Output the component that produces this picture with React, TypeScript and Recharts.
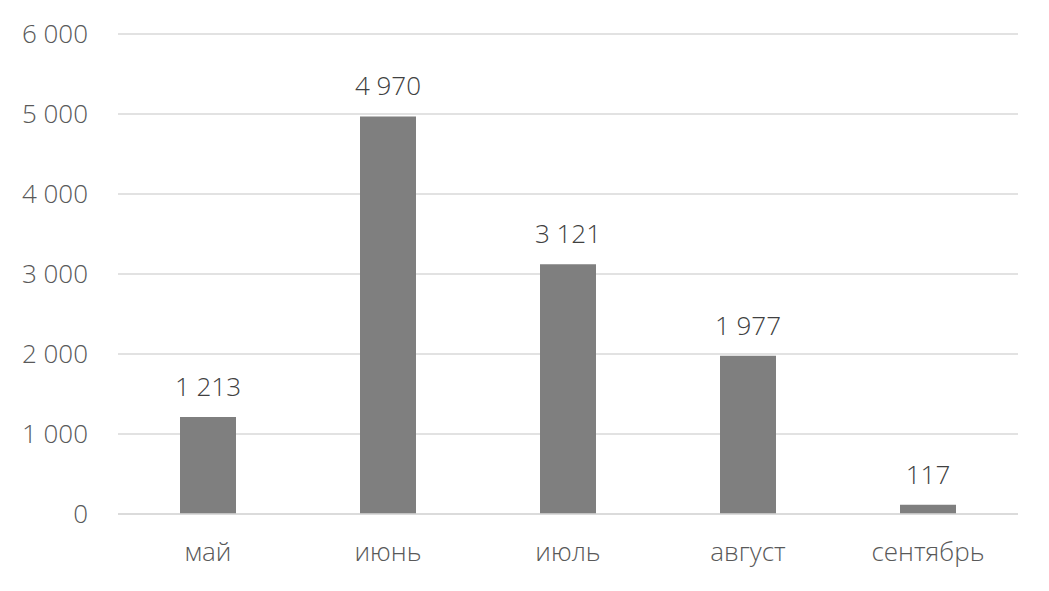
import React from 'react';
import { BarChart, Bar, XAxis, YAxis, CartesianGrid, LabelList } from 'recharts';

const months = ['май', 'июнь', 'июль', 'август', 'сентябрь'];
const values = [1213, 4970, 3121, 1977, 117];
const yTicks = [0, 1000, 2000, 3000, 4000, 5000, 6000];

const fmt = (v: number) => v.toLocaleString('ru-RU').replace(/\s/g, ' ');

export default function App() {
  const chartData = months.map((month, i) => ({ month, value: values[i] }));
  const font = '"Open Sans", sans-serif';

  return (
    <div style={{ position: 'absolute', left: 0, top: 0, background: '#fff' }}>
      <BarChart
        width={1049}
        height={591}
        data={chartData}
        barCategoryGap={62}
        margin={{ top: 34, right: 31, left: 0, bottom: 47 }}
        style={{ fontFamily: font }}
      >
        <CartesianGrid vertical={false} stroke="#d9d9d9" strokeWidth={1.5} />
        <XAxis
          dataKey="month"
          height={30}
          axisLine={{ stroke: '#d9d9d9', strokeWidth: 1.5 }}
          tickLine={false}
          tickSize={0}
          tickMargin={29}
          tick={{ fill: '#595959', fontSize: 26, fontWeight: 300 }}
        />
        <YAxis
          width={118}
          domain={[0, 6000]}
          ticks={yTicks}
          axisLine={false}
          tickLine={false}
          tickSize={0}
          tickMargin={30}
          tickFormatter={fmt}
          tick={{ fill: '#595959', fontSize: 26, fontWeight: 300 }}
        />
        <Bar dataKey="value" fill="#7f7f7f" isAnimationActive={false}>
          <LabelList
            dataKey="value"
            position="top"
            offset={21}
            formatter={(v: number) => fmt(v)}
            style={{ fill: '#404040', fontSize: 26, fontWeight: 300, fontFamily: font }}
          />
        </Bar>
      </BarChart>
    </div>
  );
}
